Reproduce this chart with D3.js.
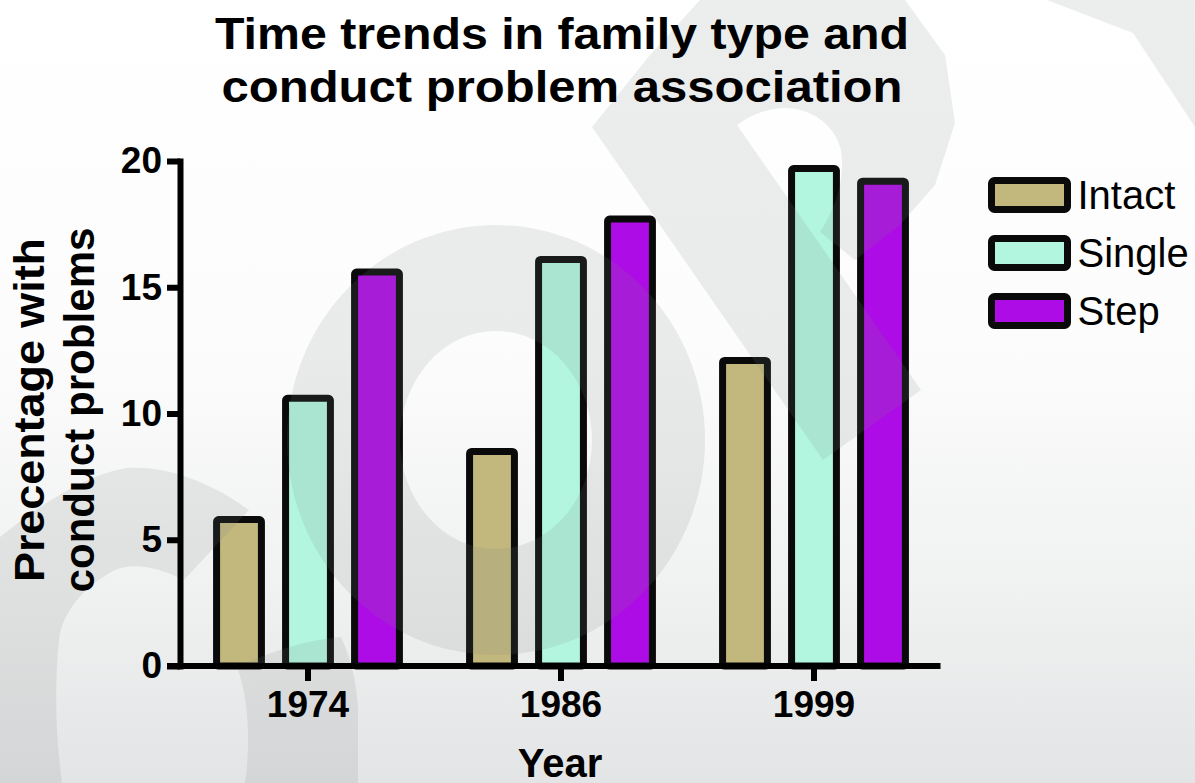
<!DOCTYPE html>
<html lang="en">
<head>
    <meta charset="UTF-8">
    <title>Time trends in family type and conduct problem association</title>
    <script src="https://d3js.org/d3.v7.min.js"></script>
    <style>
        body { margin: 0; background: #fff; }
        svg { display: block; font-family: "Liberation Sans", Arial, sans-serif; }
        .axis path, .axis line { stroke: #000; stroke-width: 6px; }
        .axis text { font-size: 37px; font-weight: bold; fill: #000; }
        .bar { stroke: #0a0a0a; stroke-width: 7px; stroke-linejoin: round; }
        .watermark { fill: rgb(120,125,130); fill-opacity: 0.14; fill-rule: evenodd; pointer-events: none; }
    </style>
</head>
<body>
    <svg width="1195" height="783"></svg>

    <script>
        // chart data
        const years = ["1974", "1986", "1999"];
        const familyTypes = ["Intact", "Single", "Step"];
        const intact = [5.8, 8.5, 12.1];
        const single = [10.6, 16.1, 19.7];
        const step = [15.6, 17.7, 19.2];
        const yTicks = [0, 5, 10, 15, 20];
        const colors = ["#c2b77d", "#b3f6df", "#ae0ce6"];

        const series = { Intact: intact, Single: single, Step: step };
        const data = years.map((yr, i) => ({
            year: yr,
            values: familyTypes.map(k => ({ key: k, value: series[k][i] }))
        }));

        const svg = d3.select("svg"),
            width = +svg.attr("width"),
            height = +svg.attr("height");

        // background gradient
        const grad = svg.append("defs").append("linearGradient")
            .attr("id", "bg").attr("x1", 0).attr("y1", 0).attr("x2", 0).attr("y2", 1);
        grad.append("stop").attr("offset", "0").attr("stop-color", "#ffffff");
        grad.append("stop").attr("offset", "0.45").attr("stop-color", "#fcfcfc");
        grad.append("stop").attr("offset", "0.75").attr("stop-color", "#f0f1f1");
        grad.append("stop").attr("offset", "1").attr("stop-color", "#e3e4e5");
        svg.append("rect").attr("width", width).attr("height", height).attr("fill", "url(#bg)");

        const x0 = d3.scaleBand().domain(years).range([181.5, 940.5]).padding(0);
        const half = 103.5;
        const x1 = d3.scaleBand().domain(familyTypes)
            .range([x0.bandwidth() / 2 - half, x0.bandwidth() / 2 + half])
            .paddingInner(0.35).paddingOuter(0.175);
        const y = d3.scaleLinear().domain([0, 20]).range([666, 161]);
        const color = d3.scaleOrdinal().domain(familyTypes).range(colors);

        // bars
        const groups = svg.append("g").attr("class", "bars")
            .selectAll("g")
            .data(data)
            .enter().append("g")
            .attr("transform", d => `translate(${x0(d.year)},0)`);

        groups.selectAll("rect")
            .data(d => d.values)
            .enter().append("rect")
            .attr("class", "bar")
            .attr("x", d => x1(d.key))
            .attr("y", d => y(d.value))
            .attr("width", x1.bandwidth())
            .attr("height", d => y(0) - y(d.value))
            .attr("rx", 2)
            .attr("fill", d => color(d.key));

        // watermark shapes (translucent, over the bars)
        const wm = svg.append("g").attr("class", "wm");
        const ring = (cx, cy, rx, ry, irx, iry) =>
            `M${cx - rx},${cy}a${rx},${ry} 0 1,0 ${2 * rx},0a${rx},${ry} 0 1,0 ${-2 * rx},0Z` +
            `M${cx - irx},${cy}a${irx},${iry} 0 1,0 ${2 * irx},0a${irx},${iry} 0 1,0 ${-2 * irx},0Z`;
        wm.append("path").attr("class", "watermark")
            .attr("d", ring(496, 440, 209, 215, 96, 109));
        wm.append("path").attr("class", "watermark")
            .attr("d", "M592,127L650,55L700,0L905,0L945,55L955,123L935,185L900,225L855,260L820,232" +
                "C838,205 845,175 841,150C835,125 812,108 784,108C765,109 750,115 737,125" +
                "L921,390L823,460Z");
        wm.append("path").attr("class", "watermark")
            .attr("d", "M1047,0L1133,33L1195,127L1195,0Z");
        wm.append("path").attr("class", "watermark")
            .attr("d", "M0,537C40,505 85,475 126,468C170,465 215,485 249,510L184,580" +
                "C160,568 135,562 115,570C85,585 62,612 59,640C54,690 56,740 62,783L0,783Z");
        wm.append("path").attr("class", "watermark")
            .attr("d", "M237,667C270,652 305,640 341,637C352,660 358,690 358,713L358,783L245,783" +
                "C250,750 250,700 237,667Z");

        // y axis
        const yAxis = svg.append("g").attr("class", "axis")
            .attr("transform", "translate(180,0)")
            .call(d3.axisLeft(y).tickValues(yTicks).tickSize(13).tickSizeOuter(0).tickPadding(5));
        yAxis.select(".domain").attr("stroke-linecap", "square");

        // x axis
        const xAxis = svg.append("g").attr("class", "axis")
            .attr("transform", `translate(0,${y(0)})`)
            .call(d3.axisBottom(x0).tickSize(15).tickSizeOuter(0).tickPadding(10));
        xAxis.select(".domain").remove();
        xAxis.append("line")
            .attr("x1", 180 - 13).attr("x2", x0.range()[1])
            .attr("y1", 0).attr("y2", 0);

        // legend
        const legend = svg.append("g").attr("class", "legend")
            .selectAll("g")
            .data(familyTypes)
            .enter().append("g")
            .attr("transform", (d, i) => `translate(991.5,${180.5 + i * 58})`);
        legend.append("rect")
            .attr("class", "bar")
            .attr("width", 76).attr("height", 29).attr("rx", 3)
            .attr("fill", d => color(d));
        legend.append("text")
            .attr("x", 86).attr("y", 28)
            .style("font-size", "40px")
            .attr("fill", "#000")
            .text(d => d);

        // titles
        const title = svg.append("text")
            .attr("text-anchor", "middle")
            .style("font-size", "45px").style("font-weight", "bold");
        title.append("tspan").attr("x", 562).attr("y", 49)
            .attr("textLength", 694).attr("lengthAdjust", "spacingAndGlyphs")
            .text("Time trends in family type and");
        title.append("tspan").attr("x", 562).attr("y", 102)
            .attr("textLength", 681).attr("lengthAdjust", "spacingAndGlyphs")
            .text("conduct problem association");

        svg.append("text")
            .attr("x", 560).attr("y", 777)
            .attr("text-anchor", "middle")
            .style("font-size", "40px").style("font-weight", "bold")
            .text("Year");

        const yTitle = svg.append("text")
            .attr("transform", "translate(0,405) rotate(-90)")
            .attr("text-anchor", "middle")
            .style("font-size", "42px").style("font-weight", "bold");
        yTitle.append("tspan").attr("x", -5).attr("y", 44)
            .attr("textLength", 344).attr("lengthAdjust", "spacingAndGlyphs")
            .text("Precentage with");
        yTitle.append("tspan").attr("x", -5).attr("y", 94)
            .attr("textLength", 365).attr("lengthAdjust", "spacingAndGlyphs")
            .text("conduct problems");
    </script>
</body>
</html>
